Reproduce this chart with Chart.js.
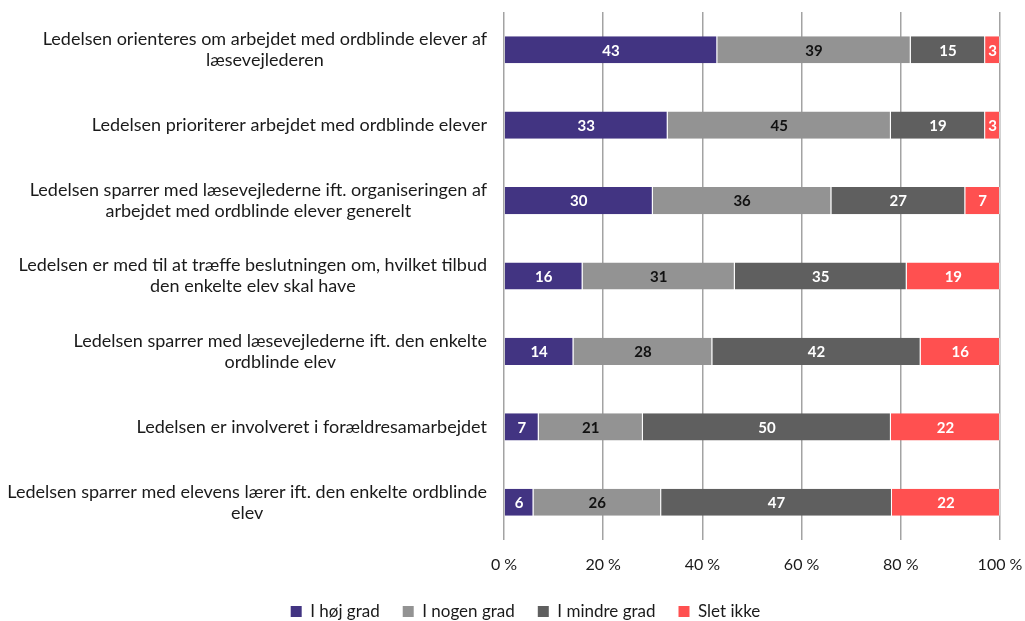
<!DOCTYPE html>
<html>
<head>
<meta charset="utf-8">
<script src="https://cdn.jsdelivr.net/npm/chart.js@4.4.1/dist/chart.umd.min.js"></script>
<style>
  html, body { margin: 0; padding: 0; background: #ffffff; }
  #wrap { width: 1025px; height: 621px; position: relative; }
</style>
</head>
<body>
<div id="wrap"><canvas id="c"></canvas></div>
<script>
// ---- data ----
const categories = [
  ["Ledelsen orienteres om arbejdet med ordblinde elever af", "læsevejlederen"],
  ["Ledelsen prioriterer arbejdet med ordblinde elever"],
  ["Ledelsen sparrer med læsevejlederne ift. organiseringen af", "arbejdet med ordblinde elever generelt"],
  ["Ledelsen er med til at træffe beslutningen om, hvilket tilbud", "den enkelte elev skal have"],
  ["Ledelsen sparrer med læsevejlederne ift. den enkelte", "ordblinde elev"],
  ["Ledelsen er involveret i forældresamarbejdet"],
  ["Ledelsen sparrer med elevens lærer ift. den enkelte ordblinde", "elev"]
];
const seriesNames = ["I høj grad", "I nogen grad", "I mindre grad", "Slet ikke"];
const hojGrad    = [43, 33, 30, 16, 14, 7, 6];
const nogenGrad  = [39, 45, 36, 31, 28, 21, 26];
const mindreGrad = [15, 19, 27, 35, 42, 50, 47];
const sletIkke   = [3, 3, 7, 19, 16, 22, 22];
const xTicks = [0, 20, 40, 60, 80, 100];

// ---- styles ----
const FONT = "Lato";
const seriesColors = ["#423482", "#939393", "#5f5f5f", "#ff5050"];
const labelColors = ["#ffffff", "#111111", "#ffffff", "#ffffff"];
const gridColor = "#a3a3a3";

const raw = [hojGrad, nogenGrad, mindreGrad, sletIkke];
const totals = categories.map((_, i) => raw.reduce((s, arr) => s + arr[i], 0));
const pct = raw.map(arr => arr.map((v, i) => v / totals[i] * 100));

const datasets = seriesNames.map((name, k) => ({
  label: name,
  data: pct[k],
  rawValues: raw[k],
  backgroundColor: seriesColors[k],
  borderColor: "rgba(255,255,255,0.55)",
  borderWidth: {left: 0, top: 0, bottom: 0, right: 1},
  borderSkipped: false,
  categoryPercentage: 1.0,
  barPercentage: 0.36,
  labelColor: labelColors[k]
}));

const PAD_LEFT = 51;
const AXIS_X = 504;

const categoryLabelPlugin = {
  id: "categoryLabels",
  afterDraw(chart) {
    const ctx = chart.ctx;
    const y = chart.scales.y;
    ctx.save();
    ctx.font = "18px " + FONT;
    ctx.fillStyle = "#1a1a1a";
    ctx.textAlign = "center";
    ctx.textBaseline = "middle";
    const rightEdge = chart.chartArea.left - 17;
    const lh = 21;
    categories.forEach((lines, i) => {
      const cy = y.getPixelForTick(i);
      const widest = Math.max(...lines.map(l => ctx.measureText(l).width));
      const cx = rightEdge - widest / 2;
      const y0 = cy - (lines.length - 1) * lh / 2;
      lines.forEach((l, j) => ctx.fillText(l, cx, y0 + j * lh));
    });
    ctx.restore();
  }
};

const barValuePlugin = {
  id: "barValues",
  afterDatasetsDraw(chart) {
    const ctx = chart.ctx;
    ctx.save();
    ctx.font = "bold 15px " + FONT;
    ctx.textAlign = "center";
    ctx.textBaseline = "middle";
    chart.data.datasets.forEach((ds, k) => {
      const meta = chart.getDatasetMeta(k);
      meta.data.forEach((bar, i) => {
        const p = bar.getProps(["x", "y", "base"], true);
        const cx = (p.x + p.base) / 2;
        ctx.fillStyle = ds.labelColor;
        ctx.fillText(String(ds.rawValues[i]), cx, p.y + 1);
      });
    });
    ctx.restore();
  }
};

const legendFitPlugin = {
  id: "legendFit",
  beforeLayout(chart) {
    const lg = chart.legend;
    if (lg && !lg._patched) {
      const orig = lg.fit.bind(lg);
      lg.fit = function () { orig(); this.height = 41; };
      lg._patched = true;
    }
  }
};

new Chart(document.getElementById("c"), {
  type: "bar",
  data: { labels: categories, datasets },
  plugins: [legendFitPlugin, categoryLabelPlugin, barValuePlugin],
  options: {
    indexAxis: "y",
    responsive: true,
    maintainAspectRatio: false,
    animation: false,
    layout: { padding: { left: PAD_LEFT, right: 25, top: 12, bottom: 0 } },
    scales: {
      x: {
        stacked: true,
        min: 0, max: 100,
        afterBuildTicks(scale) { scale.ticks = xTicks.map(v => ({ value: v })); },
        afterFit(scale) { scale.height = 40; scale.paddingLeft = 0; scale.paddingRight = 0; },
        ticks: {
          padding: 15,
          color: "#1a1a1a",
          font: { family: FONT, size: 16 },
          callback: v => v + " %",
          maxRotation: 0
        },
        grid: { color: gridColor, lineWidth: 1.5, drawTicks: false },
        border: { display: false }
      },
      y: {
        stacked: true,
        afterFit(scale) { scale.width = AXIS_X - PAD_LEFT; },
        ticks: { display: false },
        grid: { display: false },
        border: { display: false }
      }
    },
    plugins: {
      tooltip: { enabled: false },
      legend: {
        position: "bottom",
        labels: {
          boxWidth: 11,
          boxHeight: 11,
          padding: 23,
          color: "#1a1a1a",
          font: { family: FONT, size: 17 },
          generateLabels(chart) {
            const items = Chart.defaults.plugins.legend.labels.generateLabels(chart);
            items.forEach(it => { it.lineWidth = 0; it.strokeStyle = "rgba(0,0,0,0)"; });
            return items;
          }
        }
      }
    }
  }
});
</script>
</body>
</html>
